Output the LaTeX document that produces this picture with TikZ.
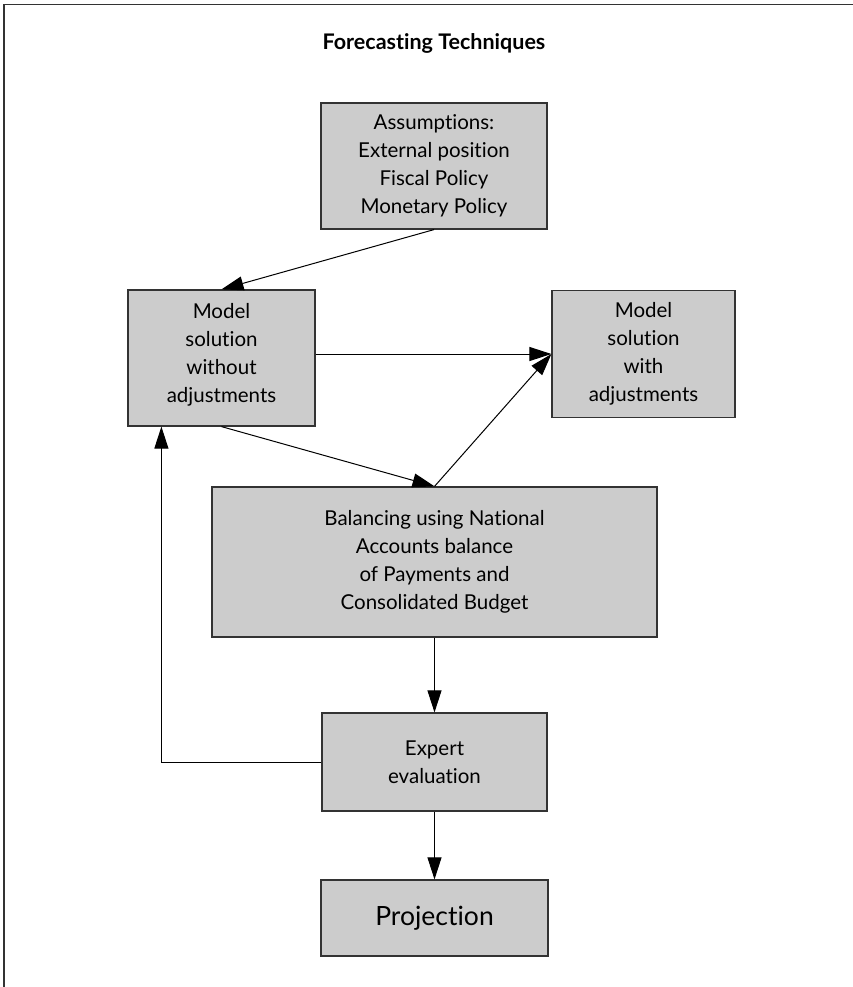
\documentclass[tikz,border=0pt]{standalone}
\usepackage{fontspec}
\setmainfont{Lato}[Ligatures=NoCommon]
\usepackage{xcolor}
\usepackage{tikz}
\usetikzlibrary{positioning,arrows.meta}
\definecolor{boxgray}{RGB}{204,204,204}
\definecolor{edgegray}{RGB}{51,51,51}
\tikzset{
    frame/.style={
        draw=edgegray,
        line width=1.3pt
    }
}
\tikzstyle{stage} = [rectangle, inner sep=0pt, text centered, align=center, draw=edgegray, line width=1.2pt, fill=boxgray, font=\fontsize{20.5}{28}\selectfont]
\tikzstyle{arrow} = [line width=1pt, -{Triangle[length=22pt,width=14pt]}]

\begin{document}
\begin{tikzpicture}[x=1pt,y=-1pt]
          \useasboundingbox (0,0) rectangle (853,987);
          \draw [frame] (4,987) -- (4,4.5) -- (853,4.5);
          \node (title) at (434,43) {\fontsize{21.5}{24}\selectfont\bfseries Forecasting Techniques};
          \node (assumptions) [stage, minimum width=226pt, minimum height=126pt] at (434,166) {Assumptions:\\External position\\Fiscal Policy\\Monetary Policy};
          \node (solution1) [stage, minimum width=187pt, minimum height=136pt] at (221.5,358) {Model\\solution\\without\\adjustments\\[-18pt]};
          \node (solution2) [stage, minimum width=183pt, minimum height=127pt] at (643.5,354) {Model\\solution\\with\\adjustments};
          \node (balancing) [stage, minimum width=445pt, minimum height=150pt] at (434.5,562) {Balancing using National\\Accounts balance\\of Payments and\\Consolidated Budget};
          \node (evaluation) [stage, minimum width=225pt, minimum height=98pt] at (434.5,762) {Expert\\evaluation};
          \node (projection) [stage, minimum width=227pt, minimum height=76pt, font=\fontsize{26.5}{30}\selectfont] at (434.5,918) {Projection};
          \draw [arrow] (assumptions.south) -- (solution1.north);
          \draw [arrow] (solution1.east |- solution2.west) -- (solution2.west);
          \draw [arrow] (solution1.south) -- (balancing.north);
          \draw [arrow] (balancing.north) -- (solution2.west);
          \draw [arrow] (balancing.south) -- (evaluation.north);
          \draw [arrow] (evaluation.west) -| ([xshift=34pt]solution1.south west);
          \draw [arrow] (evaluation.south) -- (projection.north);
        \end{tikzpicture}
\end{document}
